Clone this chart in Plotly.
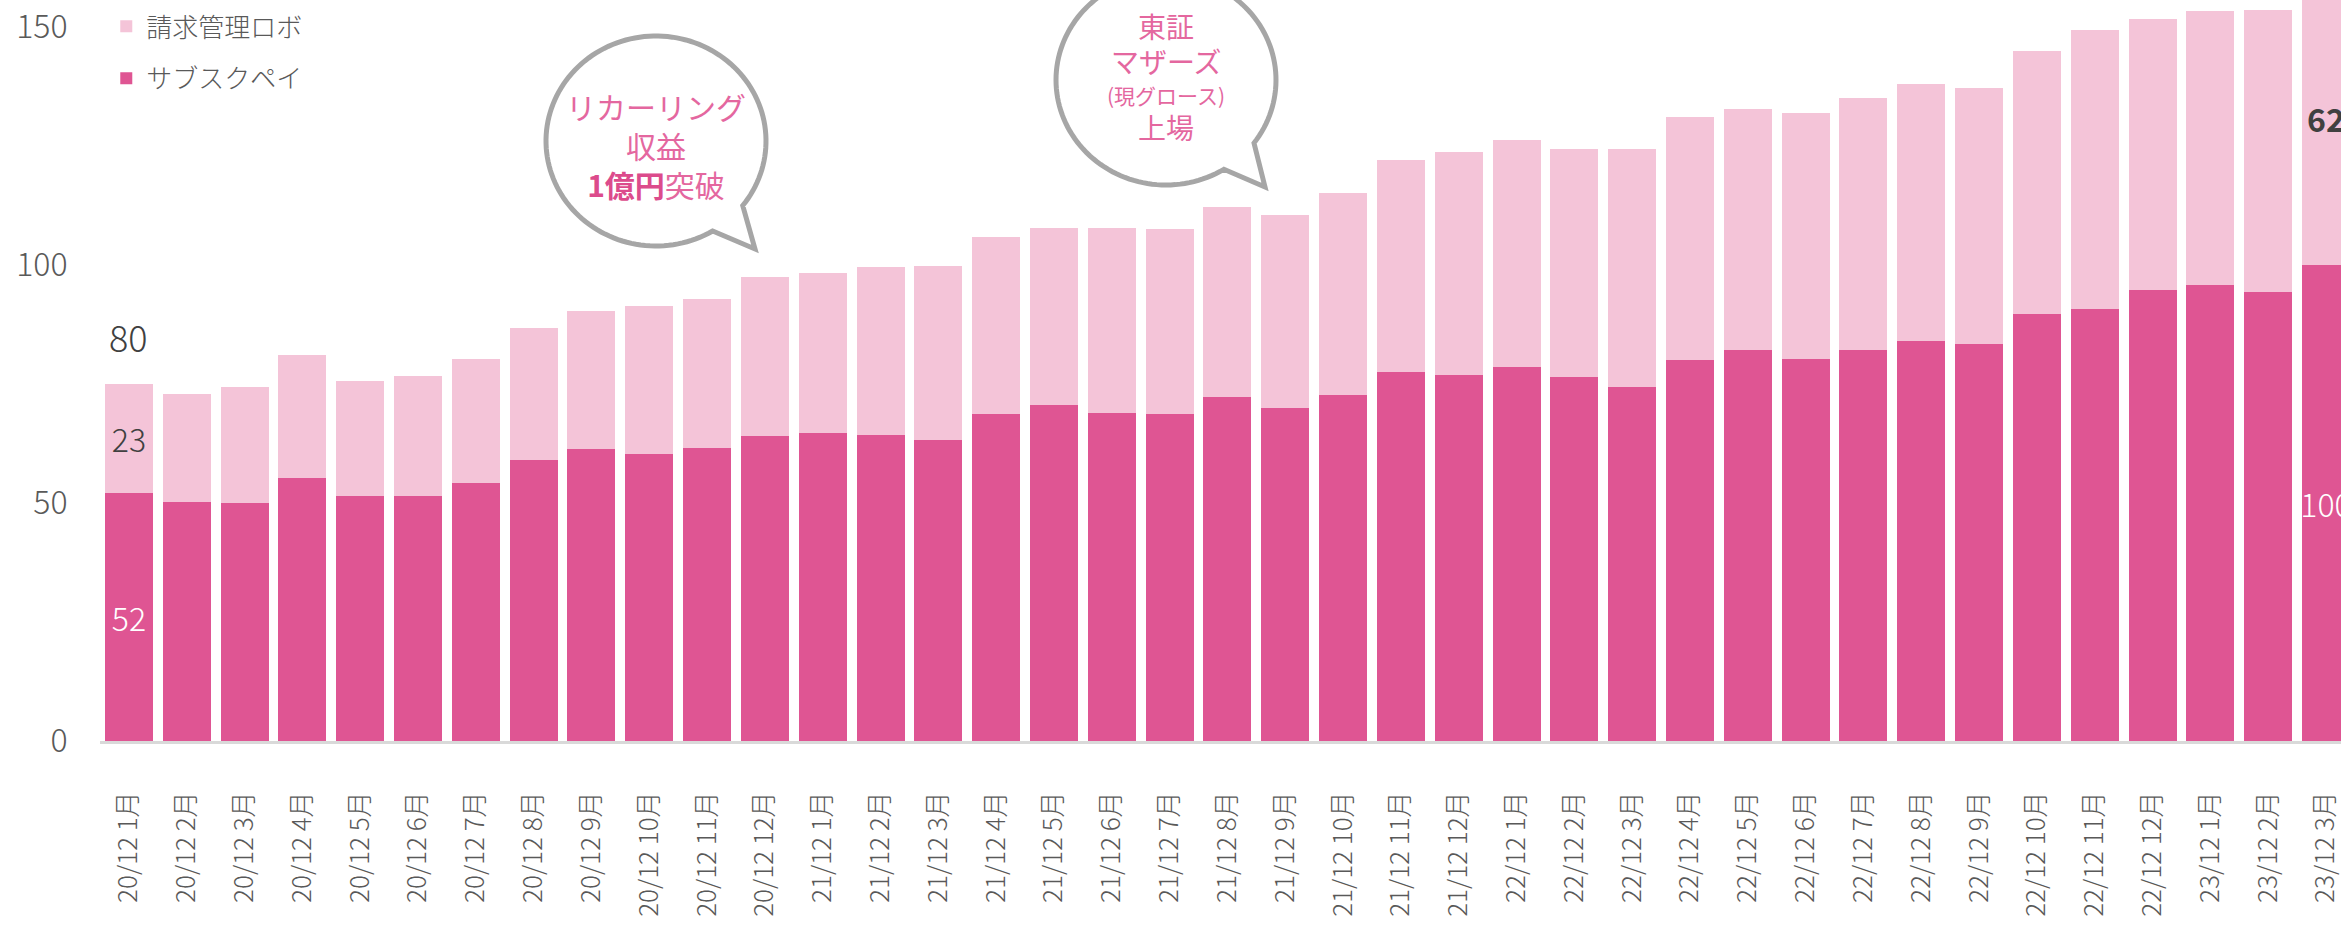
import numpy as np
import plotly.graph_objects as go

# ---------------- data ----------------
months = [
    "20/12 1月", "20/12 2月", "20/12 3月", "20/12 4月", "20/12 5月", "20/12 6月",
    "20/12 7月", "20/12 8月", "20/12 9月", "20/12 10月", "20/12 11月", "20/12 12月",
    "21/12 1月", "21/12 2月", "21/12 3月", "21/12 4月", "21/12 5月", "21/12 6月",
    "21/12 7月", "21/12 8月", "21/12 9月", "21/12 10月", "21/12 11月", "21/12 12月",
    "22/12 1月", "22/12 2月", "22/12 3月", "22/12 4月", "22/12 5月", "22/12 6月",
    "22/12 7月", "22/12 8月", "22/12 9月", "22/12 10月", "22/12 11月", "22/12 12月",
    "23/12 1月", "23/12 2月", "23/12 3月",
]
subscpay = [52.1, 50.2, 50.0, 55.3, 51.5, 51.5, 54.3, 59.0, 61.3, 60.4, 61.5, 64.0,
            64.8, 64.3, 63.2, 68.8, 70.7, 69.0, 68.8, 72.3, 70.0, 72.8, 77.6, 76.9,
            78.6, 76.5, 74.4, 80.1, 82.2, 80.3, 82.2, 84.1, 83.4, 89.8, 90.8, 94.8,
            95.9, 94.3, 100.0]
robo = [23.0, 22.8, 24.4, 25.9, 24.1, 25.3, 26.0, 27.8, 29.0, 31.1, 31.3, 33.4,
        33.5, 35.3, 36.6, 37.1, 37.1, 38.8, 38.8, 40.0, 40.6, 42.4, 44.5, 46.8,
        47.7, 47.9, 50.0, 51.0, 50.6, 51.6, 53.0, 53.9, 53.9, 55.1, 58.6, 56.9,
        57.4, 59.4, 62.0]
subscpay_labels = ["52"] + [""] * 37 + ["100"]
robo_labels = ["23"] + [""] * 37 + ["<b>62</b>"]
first_total_label = "80"
first_total_pos = 85
y_ticks = [0, 50, 100, 150]

# ---------------- style ----------------
W, H = 2341, 926
L, R, T, B = 100, 0, 0, 185
PW, PH = W - L - R, H - T - B
FONT = "Noto Sans CJK JP"
DARK = "#DF5593"
LIGHT = "#F4C4D8"
GREY_TXT = "#595959"
LABEL_TXT = "#404040"
PINK_TXT = "#E4679F"
PINK_BOLD = "#DC4B8C"
BUBBLE_LINE = "#A6A6A6"

fig = go.Figure()
fig.add_bar(x=months, y=subscpay, name="サブスクペイ", marker=dict(color=DARK, line=dict(width=0)),
            text=subscpay_labels, textposition="inside", insidetextanchor="middle", textangle=0,
            textfont=dict(family=FONT, size=32, color="white", weight=300),
            legendgroup="g1", legendrank=2, hoverinfo="skip")
fig.add_bar(x=months, y=robo, name="請求管理ロボ", marker=dict(color=LIGHT, line=dict(width=0)),
            text=robo_labels, textposition="inside", insidetextanchor="middle", textangle=0,
            textfont=dict(family=FONT, size=32, color=LABEL_TXT, weight=300),
            legendgroup="g2", legendrank=1, hoverinfo="skip")


def px2paper(px, py):
    return (px - L) / PW, (H - B - py) / PH


def bubble_path(cx, cy, rx, ry, b1, tip, b2):
    t1 = np.arctan2((b1[1] - cy) / ry, (b1[0] - cx) / rx)
    t2 = np.arctan2((b2[1] - cy) / ry, (b2[0] - cx) / rx)
    if t2 < t1:
        t2 += 2 * np.pi
    ts = np.linspace(t1, t2, 140)
    pts = [px2paper(cx + rx * np.cos(t), cy + ry * np.sin(t)) for t in ts]
    pts.append(px2paper(*tip))
    return "M " + " L ".join(f"{x:.5f},{y:.5f}" for x, y in pts) + " Z"


shapes = [
    dict(type="path", xref="paper", yref="paper",
         path=bubble_path(656, 141, 110, 105, (712, 230), (755, 249), (742, 205)),
         line=dict(color=BUBBLE_LINE, width=5), fillcolor="white", layer="above"),
    dict(type="path", xref="paper", yref="paper",
         path=bubble_path(1166, 80, 110, 105, (1223, 168), (1265, 187), (1254, 143)),
         line=dict(color=BUBBLE_LINE, width=5), fillcolor="white", layer="above"),
]

bx1, by1 = px2paper(656, 145)
annotations = [
    dict(xref="paper", yref="paper", x=bx1, y=by1, xanchor="center", yanchor="middle",
         showarrow=False, align="center",
         text=f"リカーリング<br>収益<br><b><span style='color:{PINK_BOLD}'>1億円</span></b>突破",
         font=dict(family=FONT, size=30, color=PINK_TXT)),
    dict(xref="x", yref="y", x=months[0], y=first_total_pos, xanchor="center", yanchor="middle",
         showarrow=False, text=first_total_label,
         font=dict(family=FONT, size=36, color=LABEL_TXT, weight=300)),
]
for txt, py, fs in [("東証", 26, 28), ("マザーズ", 61, 28), ("(現グロース)", 95, 21), ("上場", 127, 28)]:
    ax, ay = px2paper(1166, py)
    annotations.append(dict(xref="paper", yref="paper", x=ax, y=ay, xanchor="center",
                            yanchor="middle", showarrow=False, text=txt,
                            font=dict(family=FONT, size=fs, color=PINK_TXT)))

fig.update_layout(
    width=W, height=H,
    margin=dict(l=L, r=R, t=T, b=B, autoexpand=False),
    paper_bgcolor="white", plot_bgcolor="white",
    barmode="stack", bargap=0.17,
    uniformtext=dict(minsize=32, mode="show"),
    font=dict(family=FONT, color=GREY_TXT),
    showlegend=True,
    legend=dict(x=0.0028, y=0.996, xanchor="left", yanchor="top",
                traceorder="grouped", tracegroupgap=15,
                font=dict(family=FONT, size=26, color=GREY_TXT, weight=300),
                bgcolor="rgba(0,0,0,0)"),
    xaxis=dict(type="category", range=[-0.5, 38.26], showgrid=False, zeroline=False,
               showline=True, linecolor="#D9D9D9", linewidth=3,
               tickangle=-90, ticks="outside", ticklen=37, tickcolor="rgba(0,0,0,0)",
               tickfont=dict(family=FONT, size=26, color=GREY_TXT, weight=300)),
    yaxis=dict(range=[0, 155.7], tickvals=y_ticks, showgrid=False, zeroline=False,
               showline=False, ticks="outside", ticklen=25, tickcolor="rgba(0,0,0,0)",
               tickfont=dict(family=FONT, size=32, color=GREY_TXT, weight=300)),
    shapes=shapes,
    annotations=annotations,
)

fig.write_html("out.html", config={"displayModeBar": False},
               post_script="document.body.style.margin='0';document.body.style.overflow='hidden';")
